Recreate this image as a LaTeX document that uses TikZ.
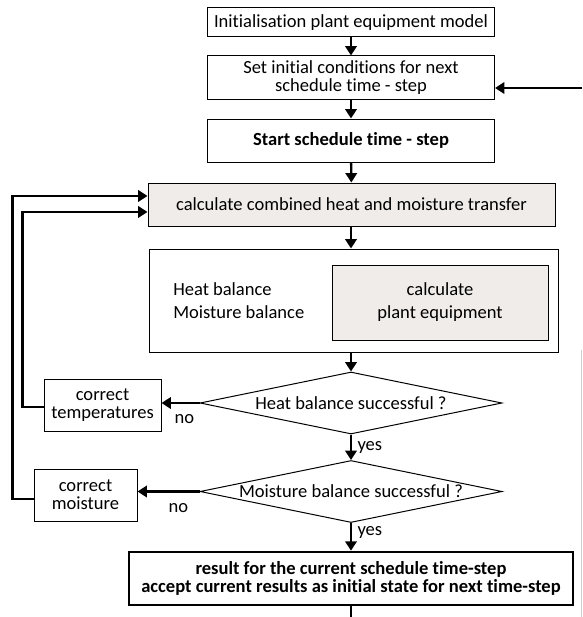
\documentclass[tikz,border=0pt]{standalone}
\usepackage{fontspec}
\setmainfont{Carlito}[Ligatures=NoCommon]
\usetikzlibrary{arrows.meta}
\usetikzlibrary{shapes.geometric}
\definecolor{boxgray}{RGB}{240,236,233}

\begin{document}
\begin{tikzpicture}[
            x=0.75pt, y=-0.75pt,
            font=\fontsize{13.9}{13.5}\selectfont,
            box/.style={draw, line width=0.75pt, align=center, inner sep=0pt},
            greybox/.style={box, fill=boxgray},
            decision/.style={draw, line width=0.75pt, diamond, aspect=4.87, inner sep=0pt,
                minimum width=226.5pt, minimum height=46.5pt},
            flow/.style={-{Triangle[length=7pt, width=8.5pt]}, line width=1.8pt},
            tag/.style={inner sep=0pt}
        ]
            \useasboundingbox (0,0) rectangle (582,617);

            % Cajas principales
            \node[box, minimum width=215.25pt, minimum height=21.75pt] (init) at (351,22.5)
                {Initialisation plant equipment model};
            \node[box, minimum width=215.25pt, minimum height=32.25pt] (set) at (351,77.5)
                {Set initial conditions for next\\schedule time - step};
            \node[box, minimum width=215.25pt, minimum height=32.25pt, font=\fontsize{13.9}{13.5}\selectfont\bfseries] (start) at (351,140.5)
                {Start schedule time - step};
            \node[greybox, minimum width=305.25pt, minimum height=32.25pt] (calc) at (351.5,204.5)
                {calculate combined heat and moisture transfer};

            % Balance de calor y humedad
            \node[box, minimum width=306.75pt, minimum height=77.25pt] (bal) at (353.5,300.5) {};
            \node[anchor=west, align=left, inner sep=0pt] (baltext) at (173,300.5)
                {Heat balance\\[3.75pt]Moisture balance};
            \node[greybox, minimum width=162pt, minimum height=56.25pt] (plant) at (440,302.5)
                {calculate\\[3.75pt]plant equipment};

            % Decisiones
            \node[decision] (heat) at (351,403) {Heat balance successful ?};
            \node[decision] (moist) at (351,491.5) {Moisture balance successful ?};
            \node[box, minimum width=87.75pt, minimum height=39pt] (temp) at (102.5,405)
                {correct\\temperatures};
            \node[box, minimum width=77.25pt, minimum height=39pt] (mcorr) at (85.5,495)
                {correct\\moisture};

            % Resultado
            \node[box, line width=2pt, minimum width=333pt, minimum height=39.75pt,
                font=\fontsize{13.9}{13.5}\selectfont\bfseries] (result) at (351,578.5)
                {result for the current schedule time-step\\accept current results as initial state for next time-step};

            % Flechas
            \draw[flow] (init) -- (set);
            \draw[flow] (set) -- (start);
            \draw[flow] (start) -- (calc);
            \draw[flow] (calc.south -| heat) -- (bal.north -| heat);
            \draw[flow] (bal.south -| heat) -- (heat.north);
            \draw[flow] (heat) -- node[tag, right, xshift=4pt] {yes} (moist);
            \draw[flow] (moist) -- node[tag, right, xshift=4pt, pos=0.35] {yes} (result);
            \draw[flow] (heat.west) -- node[tag, below, yshift=-8pt, pos=0.4] {no} (temp.east |- heat.west);
            \draw[flow] (moist.west) -- node[tag, below, yshift=-8pt, pos=0.34] {no} (mcorr.east |- moist.west);

            % Retornos
            \draw[flow] ([yshift=-1.5pt]temp.west) -- ++(-21,0) |- ([yshift=-5.6pt]calc.west);
            \draw[flow] ([yshift=-3pt]mcorr.west) -- ++(-21,0) |- ([yshift=6.4pt]calc.west);

            % Lineas que salen del recorte
            \coordinate (back) at (582,88);
            \coordinate (down) at (351,617);
            \coordinate (edgetop) at (581,350);
            \coordinate (edgebot) at (581,617);
            \draw[flow] (back) -- (set.east |- back);
            \draw[line width=1.8pt] (result.south -| down) -- (down);
            \draw[gray!40, line width=0.75pt] (edgetop) -- (edgebot);

        \end{tikzpicture}
\end{document}
